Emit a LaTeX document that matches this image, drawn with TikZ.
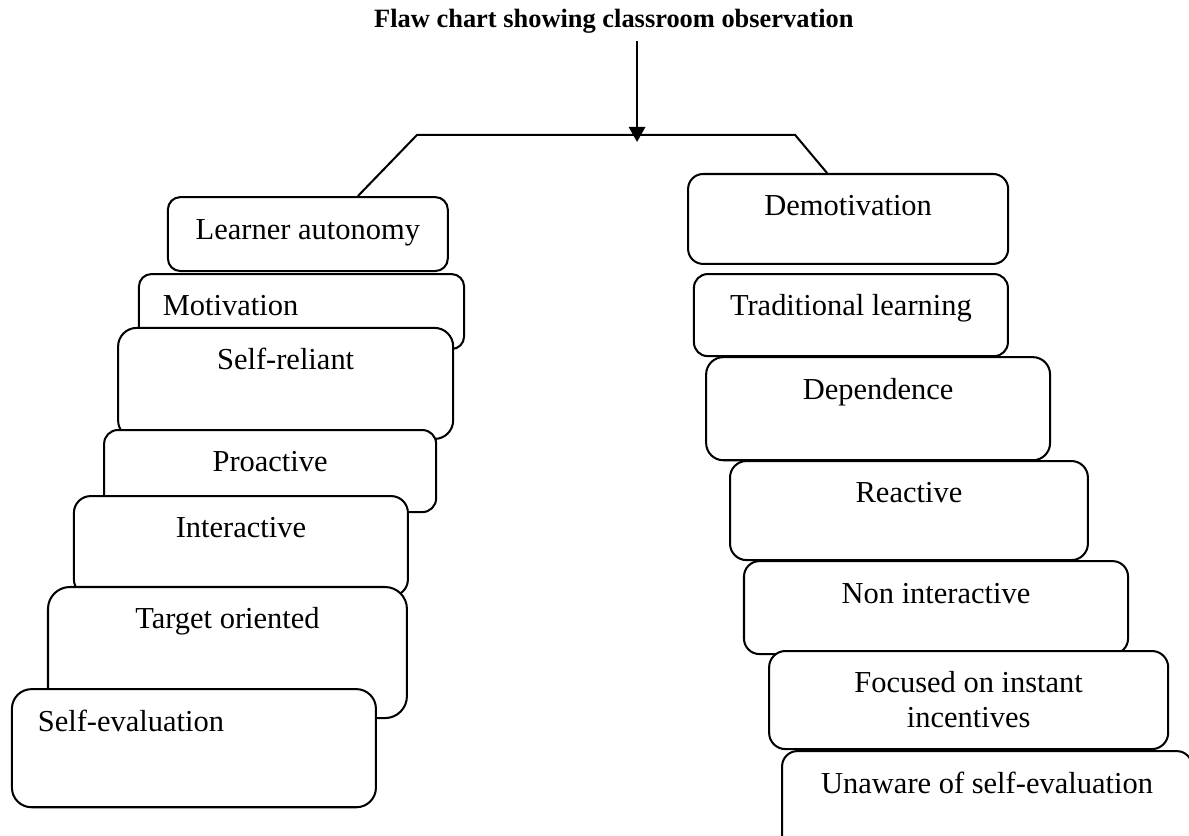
\documentclass[tikz,border=0pt]{standalone}
\usepackage{fontspec}
\setmainfont{Liberation Serif}
\usetikzlibrary{positioning}
\usetikzlibrary{arrows.meta}

\tikzset{
  stage/.style = {draw, fill=white, line width=0.8pt, anchor=north west,
    inner sep=0pt, text height=16.5pt, font=\fontsize{12pt}{13.8pt}\selectfont}
}

\begin{document}
\begin{tikzpicture}[x=1pt, y=1pt, line width=0.8pt]
      \useasboundingbox (0,0) rectangle (468.1,-329.1);

      \node[anchor=base, inner sep=2.5pt, font=\bfseries\fontsize{10.4pt}{12pt}\selectfont] (title) at (241.7,-11.0) {Flaw chart showing classroom observation};

      % left column
      \node[stage, minimum width=110.2pt, text depth=12.6pt, rounded corners=4.9pt] (autonomy) at (65.7,-77.2) {Learner autonomy};
      \node[stage, minimum width=128.0pt, text depth=13.0pt, rounded corners=4.9pt,
        align=left, text width=109.2pt, inner xsep=9.4pt] (motivation) at (54.3,-107.5) {Motivation};
      \node[stage, minimum width=131.9pt, text depth=27.2pt, rounded corners=7.3pt] (selfreliant) at (46.1,-128.7) {Self-reliant};
      \node[stage, minimum width=130.7pt, text depth=15.8pt, rounded corners=5.4pt] (proactive) at (40.6,-168.9) {Proactive};
      \node[stage, minimum width=131.5pt, text depth=22.9pt, rounded corners=6.6pt] (interactive) at (28.7,-194.9) {Interactive};
      \node[stage, minimum width=141.3pt, text depth=35.1pt, rounded corners=8.6pt] (target) at (18.5,-230.7) {Target oriented};
      \node[stage, minimum width=143.3pt, text depth=30.0pt, rounded corners=7.7pt,
        align=left, text width=122.9pt, inner xsep=10.2pt] (selfeval) at (4.3,-270.9) {Self-evaluation};

      % right column
      \node[stage, minimum width=126.0pt, text depth=18.9pt, rounded corners=5.9pt] (demotivation) at (270.5,-68.1) {Demotivation};
      \node[stage, minimum width=123.6pt, text depth=15.8pt, rounded corners=5.4pt] (traditional) at (272.8,-107.5) {Traditional learning};
      \node[stage, minimum width=135.4pt, text depth=24.1pt, rounded corners=6.8pt] (dependence) at (277.6,-140.2) {Dependence};
      \node[stage, minimum width=140.9pt, text depth=22.5pt, rounded corners=6.5pt] (reactive) at (287.0,-181.1) {Reactive};
      \node[stage, minimum width=151.2pt, text depth=20.1pt, rounded corners=6.1pt] (noninteractive) at (292.5,-220.5) {Non interactive};
      \node[stage, minimum width=157.1pt, text depth=22.1pt, rounded corners=6.4pt,
        align=flush center, text width=140pt] (incentives) at (302.4,-255.9) {Focused on instant\\incentives};
      \node[stage, minimum width=161.4pt, text depth=26.8pt, rounded corners=6.0pt] (unaware) at (307.5,-295.3) {Unaware of self-evaluation};

      \coordinate (tip) at (250.8,-55.9);
      \coordinate (lbend) at (164.2,-53.1);
      \coordinate (rbend) at (313.0,-53.1);

      \draw[-{Triangle[width=6.5pt,length=6pt]}] (title.south -| tip) -- (tip);
      \draw ([xshift=75.2pt]autonomy.north west) -- (lbend) -- (rbend) -- ([xshift=55.1pt]demotivation.north west);

\end{tikzpicture}
\end{document}
